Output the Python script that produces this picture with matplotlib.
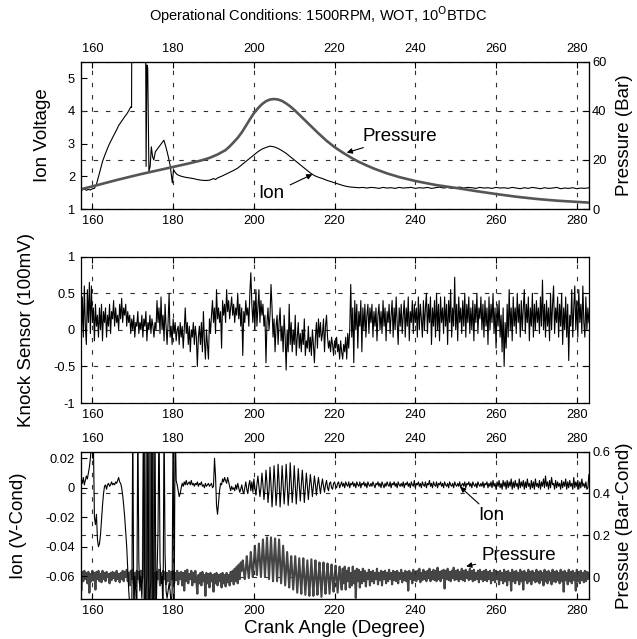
import numpy as np
import matplotlib
matplotlib.use("Agg")
import matplotlib.pyplot as plt

plt.rcParams['font.family'] = ['Liberation Sans', 'DejaVu Sans']
plt.rcParams['axes.unicode_minus'] = False

# ---------------- data ----------------
title = "Operational Conditions: 1500RPM, WOT, 10$^{\\mathrm{O}}$BTDC"
x_ticks = [160, 180, 200, 220, 240, 260, 280]

# Top panel: ion voltage (V) and cylinder pressure (bar)
ion_top_deg = [157.0, 157.5, 158.0, 158.5, 159.0, 159.5, 160.0, 160.5, 161.0, 161.5,
               162.0, 162.5, 163.0, 163.5, 164.0, 164.5, 165.0, 165.5, 166.0, 166.5,
               167.0, 167.5, 168.0, 168.5, 169.0, 169.5, 169.7, 169.75, 173.2, 173.3,
               173.5, 173.7, 174.0, 174.3, 174.6, 174.9, 175.2, 175.6, 176.2, 176.8,
               177.4, 177.7, 178.2, 178.8, 179.3, 179.8, 180.1, 180.5, 181.0, 182.0,
               183.0, 184.0, 185.0, 186.0, 187.0, 188.0, 189.0, 190.0, 190.5, 191.0,
               192.0, 193.0, 194.0, 195.0, 196.0, 197.0, 198.0, 199.0, 200.0, 201.0,
               202.0, 203.0, 204.0, 205.0, 206.0, 207.0, 208.0, 209.0, 210.0, 211.0,
               212.0, 213.0, 214.0, 215.0, 216.0, 217.0, 218.0, 219.0, 220.0, 221.0,
               222.0, 223.0, 224.0, 225.0, 226.0, 227.0, 228.0, 229.0, 230.0, 231.0,
               232.0, 233.0, 234.0, 235.0, 236.0, 237.0, 238.0, 239.0, 240.0, 241.0,
               242.0, 243.0, 244.0, 245.0, 246.0, 247.0, 248.0, 249.0, 250.0, 251.0,
               252.0, 253.0, 254.0, 255.0, 256.0, 257.0, 258.0, 259.0, 260.0, 261.0,
               262.0, 263.0, 264.0, 265.0, 266.0, 267.0, 268.0, 269.0, 270.0, 271.0,
               272.0, 273.0, 274.0, 275.0, 276.0, 277.0, 278.0, 279.0, 280.0, 281.0,
               282.0, 283.0]
ion_top_volt = [1.60, 1.58, 1.62, 1.57, 1.60, 1.58, 1.62, 1.63, 1.75, 1.98,
                2.22, 2.45, 2.62, 2.78, 2.93, 3.06, 3.18, 3.30, 3.42, 3.55,
                3.64, 3.73, 3.82, 3.90, 4.00, 4.12, 4.10, 6.00, 6.00, 2.30,
                5.40, 5.30, 2.15, 2.30, 2.90, 2.60, 2.50, 2.75, 2.85, 2.95,
                3.05, 3.10, 2.90, 2.60, 2.30, 1.80, 2.20, 2.12, 2.05, 2.00,
                1.97, 1.95, 1.93, 1.90, 1.88, 1.87, 1.88, 1.93, 1.90, 1.95,
                2.00, 2.06, 2.12, 2.18, 2.25, 2.35, 2.45, 2.55, 2.65, 2.75,
                2.83, 2.88, 2.92, 2.90, 2.85, 2.78, 2.70, 2.60, 2.50, 2.40,
                2.30, 2.20, 2.10, 2.02, 1.97, 1.93, 1.88, 1.84, 1.80, 1.76,
                1.72, 1.69, 1.67, 1.66, 1.65, 1.66, 1.64, 1.66, 1.65, 1.63,
                1.66, 1.64, 1.65, 1.63, 1.66, 1.64, 1.65, 1.66, 1.63, 1.65,
                1.64, 1.66, 1.63, 1.65, 1.67, 1.64, 1.66, 1.63, 1.65, 1.67,
                1.64, 1.66, 1.65, 1.63, 1.66, 1.64, 1.65, 1.63, 1.66, 1.64,
                1.65, 1.63, 1.66, 1.64, 1.62, 1.65, 1.63, 1.66, 1.64, 1.62,
                1.65, 1.63, 1.64, 1.66, 1.62, 1.64, 1.63, 1.65, 1.62, 1.64,
                1.63, 1.65]

p_top_deg = [157, 160, 163, 166, 169, 172, 175, 178, 181, 184, 187, 189, 191,
             193, 194, 195, 196, 197, 198, 199, 200, 201, 202, 203, 204, 205,
             206, 207, 208, 209, 210, 212, 214, 216, 218, 220, 222, 224, 226,
             228, 230, 233, 236, 240, 245, 250, 255, 260, 265, 270, 275, 280, 283]
p_top_bar = [8.0, 9.2, 10.5, 11.8, 13.0, 14.2, 15.3, 16.4, 17.5, 18.6, 19.8, 20.8, 22.2,
             24.0, 25.5, 27.2, 29.0, 31.2, 33.8, 36.5, 39.0, 41.0, 42.7, 43.9, 44.6, 44.8,
             44.6, 44.0, 43.0, 41.8, 40.4, 37.2, 34.0, 30.8, 27.8, 25.2, 23.0, 21.0, 19.2,
             17.7, 16.3, 14.5, 13.0, 11.4, 9.8, 8.6, 7.3, 6.1, 5.0, 4.1, 3.4, 2.9, 2.6]

# Middle panel: knock sensor (100 mV), sampled every 0.25 deg from 157 deg
knock_start, knock_step = 157.0, 0.25
knock = [
    0.15,-0.15,0.45,-0.1,0.6,0.05,-0.2,0.55,0.1,0.65,-0.05,0.6,0.1,0.3,-0.15,0.35,0.05,0.2,-0.1,0.3,
    0.0,0.35,-0.15,0.25,0.1,0.3,-0.1,0.2,0.05,0.35,-0.05,0.25,0.15,0.4,0.05,0.3,0.1,0.2,0.0,0.35,
    0.15,0.43,0.1,0.3,0.2,0.35,0.05,0.25,0.1,0.2,-0.05,0.15,0.0,0.2,-0.1,0.1,0.05,0.25,-0.05,0.1,
    0.0,0.2,-0.1,0.15,0.05,0.25,-0.15,0.1,0.0,0.2,-0.05,0.15,0.05,-0.1,0.1,0.0,0.4,0.1,0.3,-0.05,
    0.45,0.0,0.2,-0.15,0.35,0.05,-0.2,0.1,0.5,-0.1,0.05,-0.2,0.15,-0.05,0.1,-0.15,0.0,0.05,-0.2,0.1,
    -0.1,0.05,-0.25,0.0,0.3,-0.05,0.1,-0.2,0.05,-0.3,0.0,-0.1,0.1,-0.2,0.05,-0.1,-0.5,-0.1,0.05,-0.2,
    0.1,-0.3,0.25,-0.15,-0.4,0.0,-0.2,-0.4,0.15,-0.05,0.2,0.4,0.1,0.3,-0.05,0.55,0.15,0.3,0.1,0.25,
    -0.25,0.4,0.2,0.35,0.1,0.55,0.25,0.4,0.15,0.3,0.45,0.2,0.35,0.1,0.3,0.2,0.5,0.15,0.35,0.05,
    0.3,-0.35,0.25,0.1,0.4,0.2,0.3,0.05,0.5,0.78,0.35,0.1,0.4,0.0,0.55,0.05,0.3,0.55,0.1,0.4,
    0.2,0.35,0.05,0.2,-0.45,0.1,0.3,0.0,0.2,0.62,0.3,-0.1,0.15,-0.3,0.05,0.2,-0.2,0.1,0.3,-0.15,
    0.05,-0.3,0.2,-0.1,-0.55,0.0,-0.3,0.35,-0.2,0.1,-0.3,0.0,-0.2,0.2,-0.35,-0.1,0.1,-0.25,-0.05,-0.3,
    0.0,-0.2,0.15,-0.35,-0.15,-0.25,0.05,-0.3,-0.1,-0.35,0.0,-0.2,-0.45,-0.1,0.1,-0.25,0.15,-0.1,0.1,-0.15,
    -0.05,0.15,-0.3,0.05,0.2,-0.1,-0.25,-0.15,-0.3,-0.1,-0.2,-0.35,-0.15,-0.25,-0.1,-0.3,-0.2,-0.4,-0.15,-0.3,
    -0.4,-0.2,-0.3,-0.1,-0.4,-0.05,-0.25,0.0,0.62,-0.1,0.3,-0.45,0.4,0.0,0.35,-0.25,0.25,0.05,0.4,-0.3,
    0.3,0.0,0.35,-0.1,0.2,0.35,-0.05,0.3,0.1,0.35,-0.1,0.25,0.05,0.3,-0.15,0.2,0.35,0.0,0.25,-0.05,
    0.4,0.05,0.3,-0.15,0.25,0.1,0.35,-0.05,0.2,0.4,-0.1,0.3,0.0,0.45,0.1,-0.2,0.3,0.05,0.35,-0.05,
    0.2,0.4,-0.1,0.3,0.05,0.45,-0.15,0.25,0.1,0.4,-0.05,0.35,0.1,0.3,-0.1,0.45,0.0,0.35,0.15,-0.1,
    0.4,0.0,0.3,0.5,-0.05,0.35,0.1,0.45,-0.2,0.3,0.05,0.4,-0.1,0.5,0.0,0.35,-0.15,0.45,0.1,0.3,
    -0.05,0.45,0.05,0.35,-0.2,0.4,0.1,0.55,-0.1,0.3,0.05,0.72,0.0,0.35,-0.15,0.45,0.1,0.3,-0.05,0.4,
    0.05,0.5,-0.1,0.35,0.1,0.45,-0.05,0.3,0.0,0.4,-0.15,0.35,0.1,0.5,-0.05,0.3,0.15,0.45,0.0,0.35,
    -0.1,0.4,0.05,0.3,-0.2,0.45,0.0,0.35,0.1,0.5,-0.05,0.3,-0.25,0.35,0.05,0.4,-0.1,0.2,-0.3,0.3,
    -0.5,0.1,-0.25,0.35,-0.1,0.55,0.0,0.3,-0.15,0.45,0.05,0.3,-0.05,0.5,0.1,0.35,-0.1,0.4,0.0,0.3,
    0.55,-0.05,0.35,0.1,0.45,-0.15,0.3,0.05,0.5,-0.1,0.35,0.0,0.4,0.1,0.3,-0.05,0.45,0.05,0.68,0.0,
    0.35,-0.1,0.4,0.05,0.3,-0.15,0.5,0.0,0.35,0.6,-0.05,0.3,0.1,0.45,-0.1,0.35,0.05,0.5,-0.2,0.3,
    0.0,0.45,-0.1,0.35,-0.42,0.2,0.05,0.55,-0.1,0.3,0.6,0.0,0.4,-0.1,0.55,0.1,0.35,-0.05,0.6,0.1,
    -0.1,0.45,0.0,0.3,0.1]

# Bottom panel: conditioned ion (V) and conditioned pressure (bar), every 0.25 deg from 157 deg
cond_start, cond_step = 157.0, 0.25
ion_cond = [
    0.004,0.006,0.003,0.007,0.002,0.005,0.008,0.006,0.01,0.014,0.02,0.03,0.04,0.03,-0.02,-0.025,-0.018,-0.035,-0.04,-0.038,
    -0.032,-0.022,-0.012,-0.004,0.001,0.002,-0.001,0.002,0.003,0.001,0.002,0.004,0.002,0.003,0.002,0.004,0.003,0.005,0.007,0.004,
    0.003,0.0,-0.005,-0.012,-0.02,-0.03,-0.04,-0.055,-0.07,-0.08,-0.09,-0.09,0.05,-0.09,-0.06,-0.07,-0.09,0.05,-0.05,-0.07,
    -0.06,-0.075,-0.05,0.05,-0.09,-0.07,-0.06,0.05,-0.09,-0.07,-0.065,0.05,-0.09,-0.07,0.05,-0.09,-0.06,-0.03,0.05,-0.05,
    -0.065,-0.06,-0.09,0.05,-0.045,-0.07,-0.075,-0.07,-0.065,-0.07,-0.08,-0.07,0.05,-0.09,0.05,0.005,0.002,-0.002,-0.006,-0.004,
    0.0,0.003,0.001,0.004,0.002,0.005,0.002,0.003,0.004,0.002,0.005,0.002,0.003,0.001,0.003,0.002,0.004,0.001,0.003,0.002,
    0.004,0.001,0.002,0.0,0.003,0.001,0.002,0.003,0.001,0.002,0.003,0.0,0.001,0.02,0.008,-0.012,-0.018,-0.01,-0.002,0.003,
    0.002,0.006,0.004,0.007,0.005,0.003,0.007,0.004,0.001,-0.002,0.001,-0.001,0.0,-0.002,0.002,-0.001,0.003,0.0,-0.003,-0.001,
    0.002,-0.002,-0.004,0.0,0.004,-0.001,-0.004,0.002,0.005,-0.002,0.004,-0.003,0.006,0.0,-0.005,0.002,0.008,0.001,-0.006,0.0,
    0.01,0.002,-0.008,-0.001,0.012,0.003,-0.01,-0.002,0.014,0.002,-0.013,-0.001,0.015,0.003,-0.012,-0.002,0.016,0.004,-0.013,-0.001,
    0.015,0.002,-0.011,0.0,0.016,0.003,-0.012,-0.002,0.017,0.004,-0.01,0.0,0.015,0.002,-0.011,0.0,0.013,0.002,-0.009,0.001,
    0.012,0.002,-0.01,0.0,0.01,0.001,-0.008,0.001,0.009,0.002,-0.006,0.001,0.008,0.002,-0.005,0.002,0.007,0.001,-0.004,0.002,
    0.006,0.001,-0.003,0.002,0.005,0.0,-0.002,0.003,0.004,0.0,-0.001,0.003,0.004,0.001,0.0,0.003,0.004,0.0,0.002,0.004,
    0.001,0.003,0.0,0.004,0.002,0.001,0.004,0.0,0.003,0.002,0.004,0.001,0.003,0.0,0.004,0.002,0.001,0.004,0.0,0.003,
    0.002,0.004,0.001,0.003,0.0,0.004,0.002,0.001,0.003,0.001,0.004,0.002,0.0,0.003,0.002,0.004,0.001,0.003,0.0,0.004,
    0.002,0.0,0.003,0.001,0.004,0.002,0.001,0.004,0.0,0.003,0.002,0.004,0.001,0.003,0.0,0.004,0.002,0.001,0.003,0.001,
    0.004,0.0,0.003,0.002,0.004,0.001,0.003,0.0,0.004,0.002,0.001,0.005,0.0,0.003,0.002,0.004,0.001,0.003,0.0,0.004,
    0.002,0.001,0.004,0.0,0.003,0.002,0.005,0.001,0.003,0.0,0.004,0.002,0.001,0.004,0.0,0.003,0.002,0.004,0.001,0.003,
    0.0,0.004,0.002,0.001,0.003,0.0,0.004,0.002,0.001,0.003,0.0,0.004,0.002,0.001,0.003,0.001,0.004,0.0,0.002,0.003,
    0.001,0.004,0.0,0.003,0.002,0.004,0.001,0.003,0.0,0.004,0.002,0.001,0.003,0.0,0.004,0.002,0.001,0.003,0.001,0.004,
    0.0,0.003,0.002,0.004,0.0,0.003,0.001,0.004,0.0,0.005,0.001,0.003,-0.001,0.004,0.001,0.005,0.0,0.003,-0.001,0.005,
    0.001,0.004,-0.001,0.005,0.0,0.004,0.001,0.006,-0.001,0.004,0.0,0.005,0.001,0.003,-0.001,0.006,0.0,0.004,0.001,0.005,
    -0.001,0.004,0.0,0.006,0.001,0.003,-0.001,0.005,0.0,0.004,-0.001,0.006,0.001,0.003,0.0,0.005,-0.001,0.004,0.001,0.006,
    0.0,0.008,0.001,0.004,-0.001,0.005,0.0,0.007,0.002,0.003,-0.001,0.005,0.0,0.004,0.001,0.003,-0.001,0.005,0.0,0.004,
    0.001,0.006,-0.001,0.004,0.0,0.005,0.001,0.003,-0.001,0.007,0.0,0.004,0.001,0.005,-0.001,0.004,0.0,0.006,0.001,0.003,
    0.0,0.004,-0.001,0.0,0.009]

p_cond = [
    0.02,-0.065,0.025,-0.02,0.03,-0.01,0.02,-0.03,0.025,-0.075,0.015,-0.02,0.03,-0.015,0.02,-0.06,0.025,-0.01,0.03,-0.02,
    0.015,-0.025,0.03,-0.01,0.02,-0.02,0.025,0.0,0.015,-0.03,0.02,-0.015,0.025,-0.005,0.02,-0.02,0.03,-0.01,0.015,-0.025,
    0.02,-0.01,0.03,-0.02,0.025,0.0,0.035,-0.02,0.02,-0.04,0.03,-0.01,0.035,-0.03,0.02,-0.045,0.03,-0.01,0.025,-0.03,
    0.03,-0.02,0.035,1.0,-1.0,0.02,1.0,-1.0,0.0,1.0,-1.0,0.03,1.0,-1.0,0.02,-0.03,0.025,-0.01,0.035,-0.04,
    0.02,-0.03,0.03,-0.01,0.025,-0.035,0.02,-0.02,0.03,-0.04,0.025,-0.01,0.03,-0.03,0.02,-0.015,0.03,-0.035,0.02,-0.01,
    0.025,-0.04,0.02,-0.065,0.03,-0.02,0.035,-0.03,0.015,-0.01,0.03,-0.04,0.02,-0.025,0.03,-0.02,-0.08,0.01,-0.03,0.02,
    -0.04,0.025,-0.02,0.01,-0.09,0.02,-0.03,0.015,-0.05,0.02,-0.02,0.01,-0.07,0.015,-0.03,0.02,-0.04,0.01,-0.02,0.015,
    -0.05,0.02,-0.03,0.01,-0.045,0.02,-0.025,0.01,-0.04,0.025,-0.02,0.03,-0.035,0.04,-0.02,0.05,-0.03,0.06,-0.01,0.07,
    0.03,0.08,0.03,-0.01,0.04,0.1,0.04,-0.005,0.05,0.12,0.05,0.0,0.07,0.15,0.07,0.01,0.08,0.16,0.08,0.0,
    0.09,0.18,0.09,0.0,0.09,0.19,0.09,-0.01,0.09,0.19,0.08,-0.02,0.09,0.185,0.08,-0.02,0.08,0.18,0.07,-0.03,
    0.06,0.15,0.05,-0.04,0.04,0.12,0.03,-0.05,0.03,0.1,0.02,-0.06,0.02,0.1,0.01,-0.075,0.01,0.09,0.0,-0.08,
    0.01,0.09,0.0,-0.085,0.0,0.08,-0.01,-0.09,0.0,0.085,-0.01,-0.09,0.0,0.08,-0.01,-0.085,0.0,0.07,-0.01,-0.095,
    0.0,0.07,-0.01,-0.08,0.0,0.065,-0.01,-0.08,0.0,0.06,-0.01,-0.07,0.0,0.055,-0.01,-0.075,0.0,0.05,-0.01,-0.06,
    0.04,-0.03,0.05,-0.06,0.03,-0.02,0.045,-0.05,0.02,-0.04,0.05,-0.03,0.03,-0.1,0.04,-0.02,0.035,-0.05,0.025,-0.03,
    0.04,-0.02,0.03,-0.045,0.02,-0.01,0.035,-0.04,0.025,-0.02,0.03,-0.03,0.02,-0.01,0.04,-0.035,0.02,-0.015,0.03,-0.04,
    0.025,-0.01,0.03,-0.03,0.02,-0.02,0.035,-0.01,0.02,-0.035,0.03,-0.015,0.025,-0.02,0.03,-0.03,0.02,-0.01,0.035,-0.025,
    0.02,-0.015,0.03,-0.02,0.025,-0.065,0.03,-0.01,0.02,-0.03,0.035,-0.015,0.025,-0.02,0.03,-0.01,0.04,-0.025,0.02,-0.015,
    0.035,-0.01,0.025,-0.02,0.03,-0.005,0.04,-0.02,0.025,-0.01,0.035,-0.015,0.03,-0.02,0.045,-0.01,0.025,-0.02,0.03,-0.005,
    0.035,-0.055,0.03,-0.01,0.04,-0.015,0.025,-0.02,0.03,-0.005,0.045,-0.015,0.03,-0.01,0.035,-0.02,0.025,-0.01,0.04,-0.015,
    0.03,-0.02,0.035,-0.005,0.025,-0.015,0.04,-0.01,0.03,-0.02,0.035,-0.015,0.02,-0.01,0.03,-0.025,0.035,-0.01,0.025,-0.02,
    0.03,-0.015,0.035,-0.02,0.025,-0.01,0.03,-0.03,0.02,-0.015,0.035,-0.025,0.03,-0.01,0.025,-0.035,0.03,-0.015,0.02,-0.03,
    0.035,-0.02,0.025,-0.04,0.03,-0.015,0.02,-0.065,0.035,-0.02,0.025,-0.03,0.03,-0.015,0.02,-0.035,0.035,-0.02,0.025,-0.06,
    0.03,-0.015,0.02,-0.03,0.035,-0.02,0.025,-0.035,0.03,-0.015,0.02,-0.025,0.035,-0.02,0.025,-0.03,0.03,-0.015,0.02,-0.04,
    0.035,-0.02,0.025,-0.03,0.03,-0.015,0.02,-0.035,0.035,-0.02,0.025,-0.025,0.03,-0.015,0.02,-0.03,0.035,-0.02,0.025,-0.07,
    0.03,-0.015,0.02,-0.035,0.035,-0.02,0.025,-0.03,0.03,-0.015,0.02,-0.065,0.035,-0.02,0.025,-0.03,0.03,-0.015,0.02,-0.025,
    0.03,-0.02,0.025,-0.01,0.02]

# ---------------- figure ----------------
W, H = 637, 639
fig = plt.figure(figsize=(W / 100, H / 100), dpi=100)

def rect(x0, y0, x1, y1):
    return [x0 / W, 1 - y1 / H, (x1 - x0) / W, (y1 - y0) / H]

XL = (157.1, 283.1)
grid_kw = dict(color='#303030', linestyle=(0, (4, 7)), linewidth=0.8)
TICK_FS = 9.3
LAB_FS = 13.5
ANN_FS = 13.5
arrow_kw = dict(arrowstyle='-|>', color='black', lw=0.8, mutation_scale=8)

def style_x(ax, top_labels, bottom_labels):
    ax.set_xlim(*XL)
    ax.set_xticks(x_ticks)
    ax.tick_params(axis='x', direction='in', length=4, width=0.8, top=True, bottom=True,
                   labeltop=top_labels, labelbottom=bottom_labels, labelsize=TICK_FS, pad=4.5)
    ax.xaxis.grid(True, **grid_kw)
    for s in ax.spines.values():
        s.set_linewidth(0.9)

RIGHT_LAB_X = 1.052

# --- top panel ---
ax1 = fig.add_axes(rect(80.7, 61.7, 589.3, 209.0))
ax1.plot(ion_top_deg, ion_top_volt, color='black', linewidth=0.8)
ax1.set_ylim(1, 5.5)
ax1.set_yticks([1, 2, 3, 4, 5])
ax1.set_yticklabels(['1', '2', '3', '4', '5'])
ax1.tick_params(axis='y', direction='in', length=4, width=0.8, right=False, labelsize=TICK_FS, pad=4)
style_x(ax1, True, True)
ax1.set_ylabel('Ion Voltage', fontsize=LAB_FS)
ax1.yaxis.set_label_coords(-0.058, 0.5)
ax1r = ax1.twinx()
ax1r.plot(p_top_deg, p_top_bar, color='#555555', linewidth=1.9)
ax1r.set_ylim(0, 60)
ax1r.set_yticks([0, 20, 40, 60])
ax1r.set_yticklabels(['0', '20', '40', '60'])
ax1r.tick_params(axis='y', direction='in', length=4, width=0.8, labelsize=TICK_FS, pad=2)
ax1r.yaxis.grid(True, **grid_kw)
ax1r.set_xlim(*XL)
ax1r.set_ylabel('Pressure (Bar)', fontsize=LAB_FS)
ax1r.yaxis.set_label_coords(RIGHT_LAB_X, 0.5)
ax1.annotate('Pressure', xy=(223.0, 2.72), xytext=(227.0, 3.22), fontsize=ANN_FS,
             ha='left', va='center', arrowprops=dict(shrinkA=0, shrinkB=0, **arrow_kw))
ax1.annotate('Ion', xy=(214.5, 2.06), xytext=(201.2, 1.47), fontsize=ANN_FS,
             ha='left', va='center', arrowprops=dict(shrinkA=2, shrinkB=0, **arrow_kw))
fig.text(0.5, 1 - 15 / H, title, ha='center', va='center', fontsize=10.5)

# --- middle panel ---
ax2 = fig.add_axes(rect(80.7, 256.7, 589.3, 403.0))
knock_deg = knock_start + knock_step * np.arange(len(knock))
ax2.plot(knock_deg, knock, color='black', linewidth=0.8)
ax2.set_ylim(-1, 1)
ax2.set_yticks([-1, -0.5, 0, 0.5, 1])
ax2.set_yticklabels(['-1', '-0.5', '0', '0.5', '1'])
ax2.tick_params(axis='y', direction='in', length=4, width=0.8, right=True, labelsize=TICK_FS, pad=4)
ax2.yaxis.grid(True, **grid_kw)
style_x(ax2, False, True)
ax2.set_ylabel('Knock Sensor (100mV)', fontsize=LAB_FS)
ax2.yaxis.set_label_coords(-0.09, 0.5)

# --- bottom panel ---
ax3 = fig.add_axes(rect(80.7, 451.7, 589.3, 599.0))
cond_deg = cond_start + cond_step * np.arange(len(ion_cond))
p_deg = cond_start + cond_step * np.arange(len(p_cond))
ax3.set_ylim(-0.0755, 0.0245)
ax3.set_yticks([-0.06, -0.04, -0.02, 0, 0.02])
ax3.set_yticklabels(['-0.06', '-0.04', '-0.02', '0', '0.02'])
ax3.tick_params(axis='y', direction='in', length=4, width=0.8, right=False, labelsize=TICK_FS, pad=4)
style_x(ax3, True, True)
ax3.set_xlabel('Crank Angle (Degree)', fontsize=LAB_FS, labelpad=2)
ax3.set_ylabel('Ion (V-Cond)', fontsize=LAB_FS)
ax3.yaxis.set_label_coords(-0.105, 0.5)
ax3r = ax3.twinx()
ax3r.plot(p_deg, p_cond, color='#454545', linewidth=1.5)
ax3r.set_ylim(-0.105, 0.6)
ax3r.set_yticks([0, 0.2, 0.4, 0.6])
ax3r.set_yticklabels(['0', '0.2', '0.4', '0.6'])
ax3r.tick_params(axis='y', direction='in', length=4, width=0.8, labelsize=TICK_FS, pad=2)
ax3r.yaxis.grid(True, **grid_kw)
ax3r.set_xlim(*XL)
ax3r.set_ylabel('Pressue (Bar-Cond)', fontsize=LAB_FS)
ax3r.yaxis.set_label_coords(RIGHT_LAB_X, 0.5)
ax3.set_zorder(ax3r.get_zorder() + 1)
ax3.patch.set_visible(False)
ax3.plot(cond_deg, ion_cond, color='black', linewidth=0.8)
ax3.annotate('Ion', xy=(251.1, 0.0007), xytext=(255.6, -0.0186), fontsize=ANN_FS,
             ha='left', va='center', arrowprops=dict(shrinkA=0, shrinkB=0, **arrow_kw))
ax3.annotate('Pressure', xy=(252.6, -0.0533), xytext=(256.3, -0.0458), fontsize=ANN_FS,
             ha='left', va='center', arrowprops=dict(shrinkA=2, shrinkB=0, **arrow_kw))

fig.savefig('out.png', dpi=100)
